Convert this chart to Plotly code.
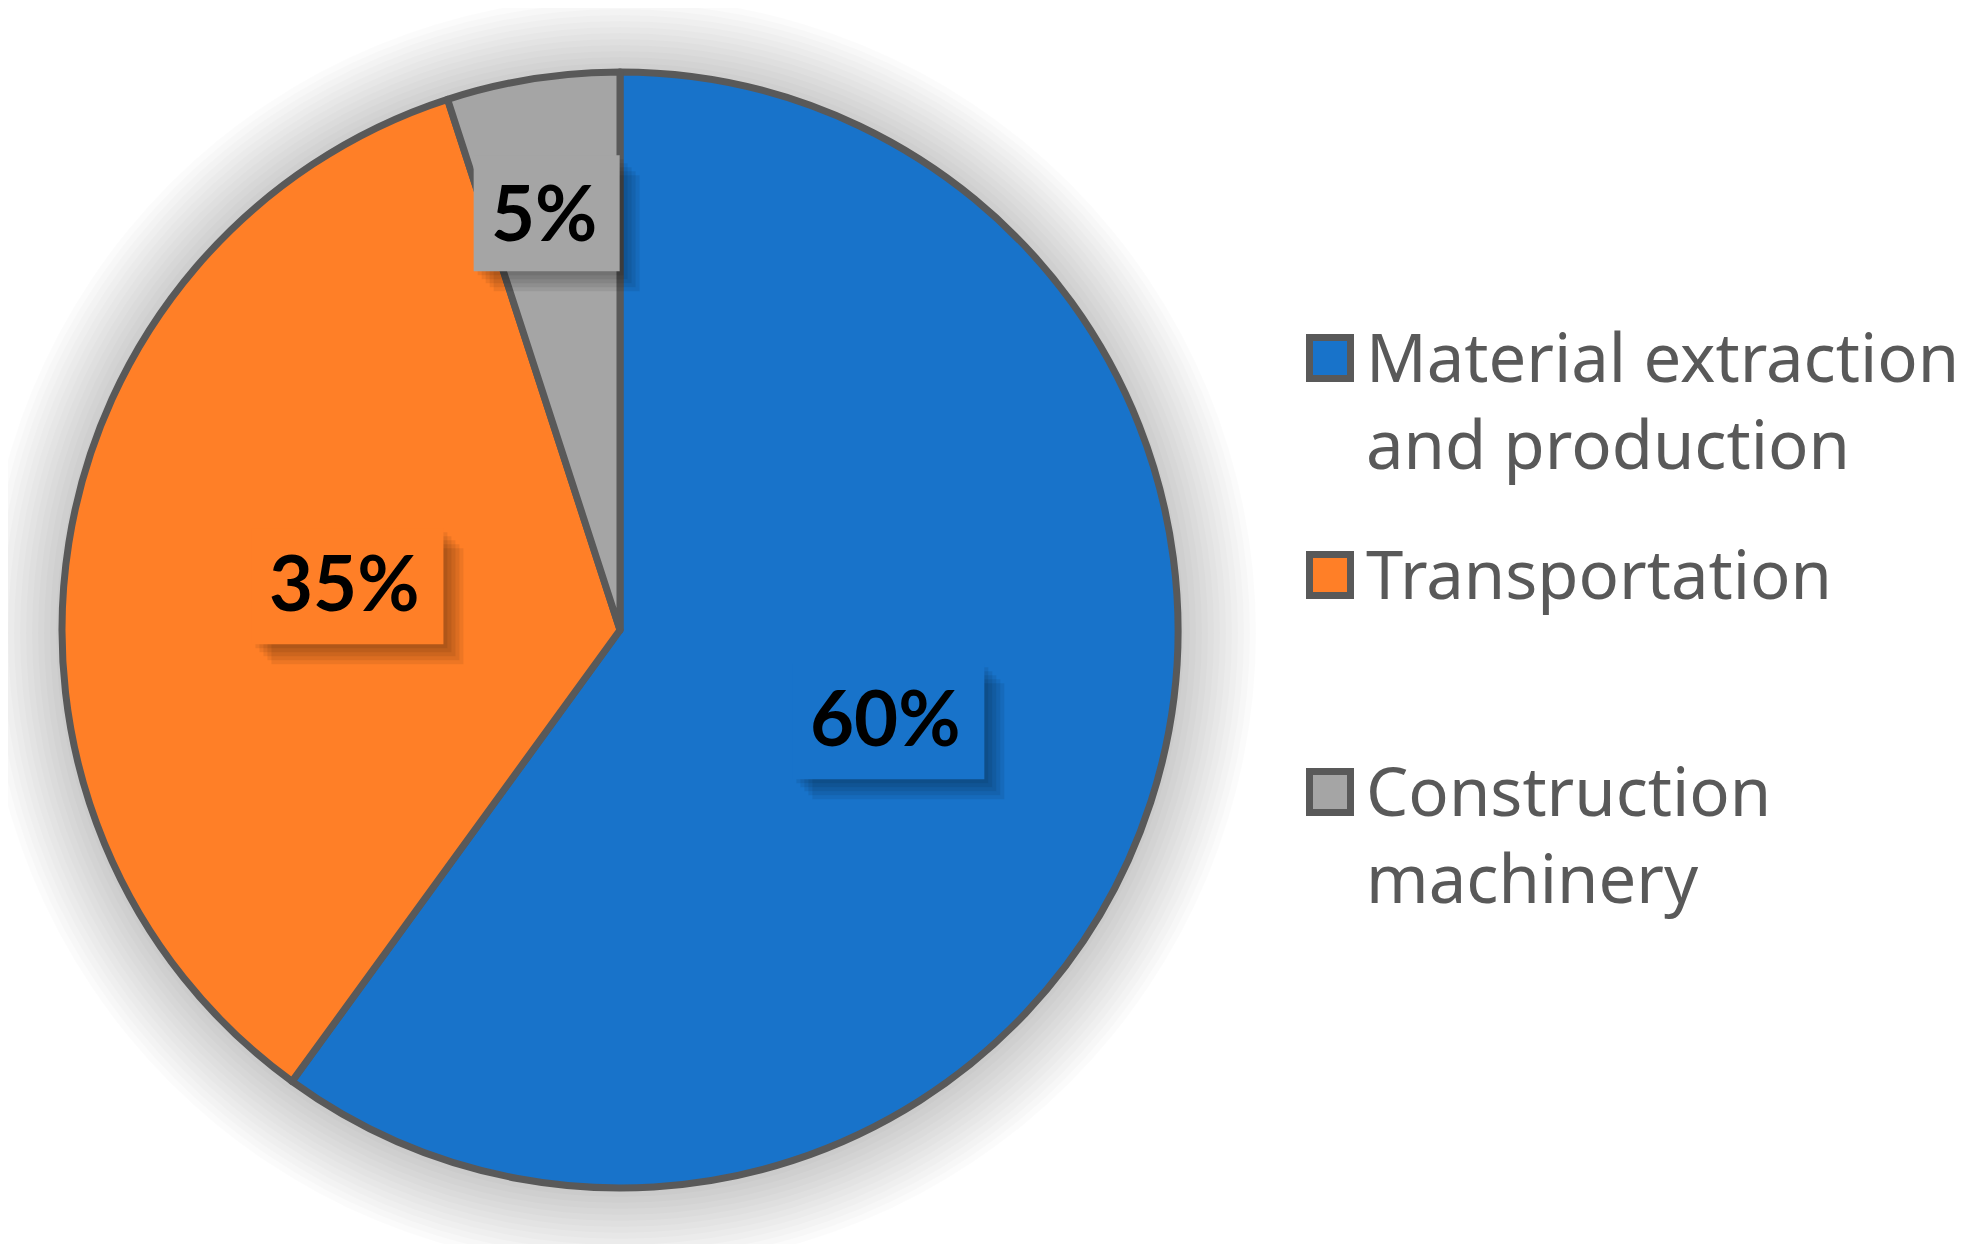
import math
import plotly.graph_objects as go

# data
labels = ["Material extraction<br>and production", "Transportation", "Construction<br>machinery"]
values = [60, 35, 5]
colors = ["#1873CA", "#FF7F27", "#A5A5A5"]

# the page body has an 8px margin, so the figure is a bit smaller than the window
OFF = 8
W, H = 1969 - 2 * OFF, 1252 - 2 * OFF
# pie geometry in window pixels (from top-left)
cx, cy, R = 620, 630, 558
edge = "#595959"


def px(x):
    return (x - OFF) / W


def py(y):
    return 1 - (y - OFF) / H


fig = go.Figure()

fig.add_trace(go.Pie(
    labels=labels,
    values=values,
    sort=False,
    direction="clockwise",
    rotation=0,
    textinfo="none",
    hoverinfo="label+percent",
    marker=dict(colors=colors, line=dict(color=edge, width=7)),
    domain=dict(x=[px(cx - R), px(cx + R)], y=[py(cy + R), py(cy - R)]),
    showlegend=False,
))

shapes = []
# soft halo behind the pie
for k in range(1, 14):
    r = R + k * 6
    shapes.append(dict(type="circle", xref="paper", yref="paper", layer="below",
                       x0=px(cx - r), x1=px(cx + r), y0=py(cy + r + 3), y1=py(cy - r + 3),
                       fillcolor="rgba(0,0,0,0.014)", line=dict(width=0)))

annotations = []
total = sum(values)
label_r = [0.5, 0.5, 0.76]  # radial position of each data label
start = 0.0
for i, v in enumerate(values):
    mid = (start + v / 2) / total * 2 * math.pi
    start += v
    tx = cx + label_r[i] * R * math.sin(mid)
    ty = cy - label_r[i] * R * math.cos(mid)
    if i == 2:
        tx -= 10
    if i == 1:
        ty -= 5
    txt = f"{v / total * 100:.0f}%"
    bw = 54 + 46 * len(txt)
    bh = 116
    bx, by = tx + 3, ty + (2 if i == 2 else 5)
    # drop shadow of the label box
    for k in range(4, 24, 4):
        shapes.append(dict(type="rect", xref="paper", yref="paper", layer="above",
                           x0=px(bx - bw / 2 + k), x1=px(bx + bw / 2 + k),
                           y0=py(by + bh / 2 + k), y1=py(by - bh / 2 + k),
                           fillcolor="rgba(0,0,0,0.07)", line=dict(width=0)))
    shapes.append(dict(type="rect", xref="paper", yref="paper", layer="above",
                       x0=px(bx - bw / 2), x1=px(bx + bw / 2),
                       y0=py(by + bh / 2), y1=py(by - bh / 2),
                       fillcolor=colors[i], line=dict(width=0)))
    annotations.append(dict(x=px(tx), y=py(ty), xref="paper", yref="paper",
                            text=txt, showarrow=False, xanchor="center", yanchor="middle",
                            font=dict(family="Lato", size=76, color="black", weight="bold")))

# legend drawn by hand so the swatches can be as large as in the reference
leg_fs = 67
for i, lab in enumerate(labels):
    base = 381 + 217 * i
    mc = base - 23
    shapes.append(dict(type="rect", xref="paper", yref="paper", layer="above",
                       x0=px(1309.5), x1=px(1350.5), y0=py(mc + 20.5), y1=py(mc - 20.5),
                       fillcolor=colors[i], line=dict(color=edge, width=7)))
    annotations.append(dict(x=px(1364), y=py(base - 1.069 * leg_fs - 1), xref="paper", yref="paper",
                            text=lab, showarrow=False, xanchor="left", yanchor="top", align="left",
                            font=dict(family="Noto Sans", size=leg_fs, color=edge)))

fig.update_layout(
    width=W,
    height=H,
    margin=dict(l=0, r=0, t=0, b=0),
    paper_bgcolor="white",
    plot_bgcolor="white",
    shapes=shapes,
    annotations=annotations,
    showlegend=False,
)

fig.write_html("out.html")
